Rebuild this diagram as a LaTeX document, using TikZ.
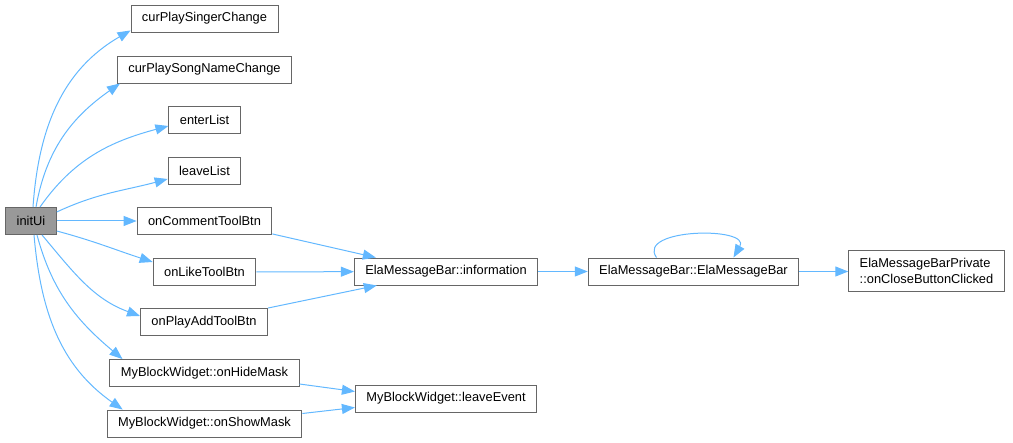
\documentclass[tikz,border=0pt]{standalone}
\usepackage{fontspec}
\setmainfont{Liberation Sans}
\usetikzlibrary{arrows.meta}
\definecolor{edgeblue}{HTML}{63B8FF}
\definecolor{boxgray}{HTML}{666666}
\definecolor{rootgray}{HTML}{999999}
\begin{document}
\begin{tikzpicture}[
    x=1pt, y=1pt,
    fn/.style={rectangle, draw=boxgray, fill=white, line width=0.9pt, font=\fontsize{12.85}{16}\selectfont, inner xsep=11pt, inner ysep=4pt, minimum height=27pt},
    root/.style={fn, fill=rootgray},
    call/.style={draw=edgeblue, line width=1pt, -{Triangle[length=13pt,width=10pt]}}
]
    \useasboundingbox (0,0) rectangle (1013,-443);

    \node [root] (initui) at (31,-221) {initUi};
    \node [fn] (singer) at (204.5,-18.5) {curPlaySingerChange};
    \node [fn] (songname) at (204.5,-69.5) {curPlaySongNameChange};
    \node [fn] (enter) at (204.5,-119.5) {enterList};
    \node [fn] (leave) at (204.5,-170.5) {leaveList};
    \node [fn] (comment) at (204.5,-221) {onCommentToolBtn};
    \node [fn] (like) at (204.5,-272) {onLikeToolBtn};
    \node [fn] (playadd) at (204,-322) {onPlayAddToolBtn};
    \node [fn] (hide) at (204.5,-373) {MyBlockWidget::onHideMask};
    \node [fn] (show) at (204.5,-423.5) {MyBlockWidget::onShowMask};
    \node [fn] (info) at (446,-271.5) {ElaMessageBar::information};
    \node [fn] (leaveev) at (446,-398.5) {MyBlockWidget::leaveEvent};
    \node [fn] (ctor) at (693.5,-271.5) {ElaMessageBar::ElaMessageBar};
    \node [fn, align=left, minimum height=41pt] (close) at (926.5,-270.5) {ElaMessageBarPrivate\\::onCloseButtonClicked};

    % calls from initUi
    \draw [call] ([xshift=2pt]initui.north) to[out=86, in=210] ([yshift=2pt]singer.south west);
    \draw [call] ([xshift=5pt]initui.north) to[out=80, in=215] ([xshift=3pt]songname.south west);
    \draw [call] ([xshift=9pt]initui.north) to[out=55, in=195] ([yshift=-6.5pt]enter.west);
    \draw [call] ([yshift=9pt]initui.east) to[out=25, in=195] ([yshift=-8.5pt]leave.west);
    \draw [call] (initui) -- (comment);
    \draw [call] ([yshift=-10pt]initui.east) to[out=-15, in=162] ([yshift=10pt]like.west);
    \draw [call] ([xshift=11pt]initui.south) to[out=-50, in=160] ([yshift=6pt]playadd.west);
    \draw [call] ([xshift=6pt]initui.south) to[out=-75, in=140] ([xshift=13pt]hide.north west);
    \draw [call] ([xshift=3pt]initui.south) to[out=-85, in=145] ([xshift=16pt]show.north west);

    % into the message bar
    \draw [call] ([yshift=1pt]comment.south east) -- ([xshift=22pt]info.north west);
    \draw [call] (like) -- (info);
    \draw [call] (playadd.north east) -- ([xshift=23pt]info.south west);
    \draw [call] (info) -- (ctor);
    \draw [call] ([xshift=-37pt]ctor.north) to[out=125, in=60, looseness=1.2] ([xshift=40pt]ctor.north);
    \draw [call] (ctor) -- ([yshift=-1pt]close.west);

    % mask handlers
    \draw [call] ([yshift=-11pt]hide.east) -- ([yshift=7pt]leaveev.west);
    \draw [call] ([yshift=10pt]show.east) -- ([yshift=-9pt]leaveev.west);
\end{tikzpicture}
\end{document}
